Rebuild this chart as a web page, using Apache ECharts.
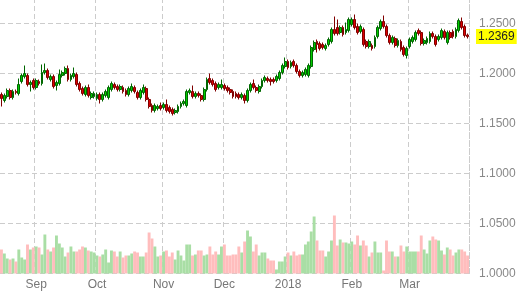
<!DOCTYPE html>
<html>
<head>
<meta charset="utf-8">
<script src="https://cdn.jsdelivr.net/npm/echarts@6/dist/echarts.min.js"></script>
<style>
  html, body { margin: 0; padding: 0; background: #fff; overflow: hidden; }
  /* taller than the window and pulled up so the axis max line sits off-screen */
  #main { width: 519px; height: 305px; margin-top: -10px; }
</style>
</head>
<body>
<div id="main"></div>
<script>
// month labels and how many daily bars each one holds
var months = ['Aug', 'Sep', 'Oct', 'Nov', 'Dec', '2018', 'Feb', 'Mar'];
var monthBars = [12, 21, 23, 21, 22, 22, 20, 21];

// price axis ticks
var priceTicks = [1.0, 1.05, 1.1, 1.15, 1.2, 1.25];

// daily candles: [open, close, low, high]
var ohlc = [
  [1.179,1.175,1.167,1.181],[1.173,1.178,1.171,1.180],[1.177,1.183,1.175,1.185],[1.183,1.176,1.174,1.185],
  [1.176,1.182,1.174,1.184],[1.182,1.181,1.179,1.184],[1.180,1.189,1.178,1.195],[1.192,1.198,1.190,1.200],
  [1.197,1.200,1.195,1.208],[1.198,1.189,1.187,1.200],[1.189,1.191,1.182,1.193],[1.193,1.186,1.184,1.195],
  [1.186,1.193,1.184,1.195],[1.192,1.190,1.188,1.194],[1.190,1.201,1.188,1.209],[1.201,1.203,1.199,1.210],
  [1.203,1.196,1.194,1.205],[1.194,1.197,1.192,1.199],[1.197,1.187,1.185,1.199],[1.188,1.191,1.183,1.193],
  [1.190,1.199,1.188,1.204],[1.198,1.201,1.196,1.203],[1.200,1.205,1.198,1.207],[1.205,1.194,1.192,1.208],
  [1.194,1.198,1.192,1.200],[1.197,1.200,1.195,1.206],[1.199,1.189,1.187,1.201],[1.190,1.184,1.182,1.192],
  [1.185,1.180,1.178,1.187],[1.179,1.186,1.177,1.188],[1.186,1.178,1.176,1.189],[1.176,1.180,1.174,1.182],
  [1.177,1.180,1.175,1.182],[1.175,1.179,1.173,1.181],[1.179,1.174,1.170,1.181],[1.174,1.179,1.172,1.181],
  [1.178,1.182,1.176,1.184],[1.176,1.186,1.174,1.188],[1.184,1.190,1.182,1.192],[1.189,1.186,1.184,1.191],
  [1.187,1.184,1.182,1.189],[1.184,1.187,1.182,1.189],[1.186,1.182,1.180,1.188],[1.183,1.179,1.177,1.185],
  [1.179,1.185,1.177,1.187],[1.183,1.187,1.181,1.190],[1.186,1.182,1.180,1.188],[1.181,1.176,1.174,1.183],
  [1.176,1.183,1.174,1.185],[1.181,1.186,1.179,1.189],[1.185,1.174,1.172,1.187],[1.174,1.167,1.165,1.176],
  [1.168,1.163,1.161,1.170],[1.163,1.168,1.161,1.170],[1.165,1.167,1.163,1.169],[1.168,1.165,1.163,1.171],
  [1.166,1.169,1.164,1.171],[1.169,1.163,1.161,1.174],[1.166,1.162,1.160,1.168],[1.164,1.160,1.158,1.166],
  [1.161,1.163,1.159,1.165],[1.162,1.167,1.160,1.169],[1.167,1.170,1.165,1.172],[1.170,1.172,1.168,1.174],
  [1.168,1.182,1.166,1.184],[1.181,1.183,1.179,1.185],[1.182,1.177,1.175,1.188],[1.177,1.180,1.175,1.182],
  [1.180,1.178,1.176,1.182],[1.178,1.174,1.172,1.180],[1.174,1.184,1.172,1.186],[1.184,1.194,1.182,1.196],
  [1.195,1.191,1.189,1.200],[1.193,1.189,1.187,1.195],[1.190,1.184,1.182,1.192],[1.186,1.189,1.184,1.191],
  [1.186,1.189,1.184,1.194],[1.188,1.185,1.183,1.190],[1.186,1.183,1.181,1.188],[1.184,1.181,1.179,1.186],
  [1.182,1.177,1.175,1.184],[1.180,1.177,1.175,1.182],[1.179,1.176,1.174,1.181],[1.176,1.179,1.174,1.181],
  [1.178,1.173,1.170,1.180],[1.173,1.183,1.171,1.185],[1.183,1.189,1.181,1.191],[1.190,1.186,1.184,1.194],
  [1.186,1.183,1.181,1.188],[1.182,1.187,1.180,1.189],[1.187,1.193,1.185,1.195],[1.193,1.196,1.191,1.198],
  [1.195,1.193,1.191,1.197],[1.194,1.192,1.188,1.196],[1.194,1.192,1.190,1.196],[1.193,1.197,1.191,1.199],
  [1.195,1.201,1.193,1.203],[1.201,1.208,1.199,1.210],[1.207,1.212,1.205,1.216],[1.212,1.206,1.204,1.214],
  [1.207,1.211,1.205,1.213],[1.212,1.208,1.206,1.214],[1.208,1.202,1.200,1.210],[1.202,1.198,1.196,1.204],
  [1.198,1.201,1.196,1.203],[1.199,1.204,1.197,1.206],[1.198,1.208,1.196,1.210],[1.207,1.226,1.205,1.228],
  [1.224,1.231,1.222,1.233],[1.232,1.229,1.221,1.234],[1.230,1.225,1.223,1.232],[1.229,1.226,1.224,1.231],
  [1.225,1.228,1.223,1.230],[1.229,1.234,1.227,1.236],[1.232,1.244,1.230,1.246],[1.244,1.240,1.238,1.257],
  [1.246,1.240,1.238,1.254],[1.241,1.246,1.239,1.248],[1.246,1.239,1.237,1.248],[1.241,1.244,1.239,1.251],
  [1.243,1.254,1.241,1.256],[1.249,1.254,1.247,1.256],[1.254,1.246,1.244,1.259],[1.247,1.241,1.239,1.250],
  [1.242,1.247,1.240,1.249],[1.244,1.229,1.227,1.246],[1.232,1.227,1.225,1.234],[1.227,1.232,1.225,1.234],
  [1.228,1.225,1.223,1.230],[1.227,1.236,1.225,1.238],[1.237,1.246,1.235,1.248],[1.245,1.252,1.243,1.254],
  [1.252,1.247,1.245,1.258],[1.247,1.238,1.236,1.249],[1.238,1.231,1.229,1.240],[1.231,1.236,1.229,1.238],
  [1.235,1.228,1.226,1.237],[1.228,1.233,1.226,1.235],[1.232,1.224,1.222,1.234],[1.226,1.219,1.217,1.228],
  [1.218,1.225,1.215,1.227],[1.227,1.234,1.225,1.236],[1.232,1.236,1.230,1.238],[1.234,1.241,1.232,1.243],
  [1.243,1.240,1.238,1.245],[1.241,1.230,1.228,1.243],[1.230,1.233,1.228,1.235],[1.231,1.235,1.229,1.237],
  [1.232,1.240,1.230,1.242],[1.240,1.237,1.235,1.242],[1.237,1.229,1.227,1.239],[1.234,1.237,1.232,1.239],
  [1.236,1.243,1.234,1.245],[1.242,1.236,1.234,1.244],[1.231,1.241,1.229,1.243],[1.241,1.236,1.234,1.243],
  [1.242,1.237,1.235,1.244],[1.237,1.244,1.235,1.246],[1.243,1.253,1.241,1.255],[1.252,1.246,1.244,1.256],
  [1.247,1.238,1.236,1.249],[1.2385,1.2369,1.235,1.240]
];

// daily volume (relative units)
var volumes = [
  24,20,15,14,15,12,24,16,14,29,24,26,27,26,19,39,24,22,26,38,30,26,17,21,27,22,22,24,27,26,
  23,22,21,18,17,19,24,11,23,22,17,22,16,18,18,20,22,21,17,17,21,41,35,27,17,18,22,23,17,21,
  14,23,18,13,29,29,18,19,23,23,18,19,27,19,22,19,27,29,18,18,19,19,27,21,32,43,37,22,29,18,
  21,21,15,13,13,4,12,12,17,21,18,22,18,19,19,29,32,42,57,33,23,23,17,22,33,58,28,34,31,31,
  30,32,29,38,28,33,28,17,21,32,21,21,3,33,22,22,17,17,28,22,27,22,22,22,22,38,24,20,33,37,
  34,33,23,19,26,24,18,21,24,24,22,18
];

var categories = [];
months.forEach(function (m, mi) {
  for (var k = 0; k < monthBars[mi]; k++) categories.push(m + '-' + (k + 1));
});

var lastClose = ohlc[ohlc.length - 1][1];

var volData = volumes.map(function (v, i) {
  var up = ohlc[i][1] >= ohlc[i][0];
  return { value: v, itemStyle: { color: up ? '#a9dea5' : '#ffbdbd' } };
});

function isMonthStart(index, value) {
  return index > 0 && /-1$/.test(value);
}

var gridLine = { show: true, lineStyle: { color: '#cccccc', type: [5, 3], width: 1 } };
var font = 'Liberation Sans, Arial, sans-serif';

var chart = echarts.init(document.getElementById('main'));
chart.setOption({
  animation: false,
  backgroundColor: '#fff',
  grid: { left: 0, right: 50, top: 0, bottom: 21.5 },
  xAxis: {
    type: 'category',
    data: categories,
    boundaryGap: true,
    axisLine: { show: false },
    axisTick: { show: false },
    axisLabel: {
      interval: isMonthStart,
      formatter: function (v) { return v.split('-')[0]; },
      color: '#777',
      fontFamily: font,
      fontSize: 12,
      margin: 5
    },
    splitLine: { show: true, interval: isMonthStart, lineStyle: gridLine.lineStyle }
  },
  yAxis: [{
    type: 'value',
    position: 'right',
    min: priceTicks[0],
    max: 1.2835,
    interval: 0.05,
    axisLine: { show: true, lineStyle: { color: '#cccccc', type: [5, 3] } },
    axisTick: { show: false },
    axisLabel: {
      showMaxLabel: false,
      margin: 10,
      color: '#888',
      fontFamily: font,
      fontSize: 12,
      formatter: function (v) { return priceTicks.some(function (t) { return Math.abs(t - v) < 1e-9; }) ? v.toFixed(4) : ''; }
    },
    splitLine: gridLine
  }, {
    type: 'value',
    min: 0,
    max: 283.5,
    show: false
  }],
  series: [{
    type: 'bar',
    yAxisIndex: 1,
    data: volData,
    barWidth: '100%',
    silent: true
  }, {
    type: 'candlestick',
    data: ohlc,
    barWidth: '80%',
    itemStyle: {
      color: '#00cc00',
      borderColor: '#006600',
      color0: '#dd0000',
      borderColor0: '#800000',
      borderWidth: 1
    },
    markLine: {
      silent: true,
      precision: 4,
      symbol: ['none', 'none'],
      lineStyle: { color: 'rgba(0,0,0,0)', width: 0, type: 'solid' },
      label: {
        show: true,
        position: 'end',
        distance: 7,
        formatter: function (p) { return Number(p.value).toFixed(4); },
        backgroundColor: '#ffff00',
        color: '#222',
        fontFamily: font,
        fontSize: 12,
        padding: [2, 2, 1, 2]
      },
      data: [{ yAxis: lastClose }]
    }
  }]
});
</script>
</body>
</html>
